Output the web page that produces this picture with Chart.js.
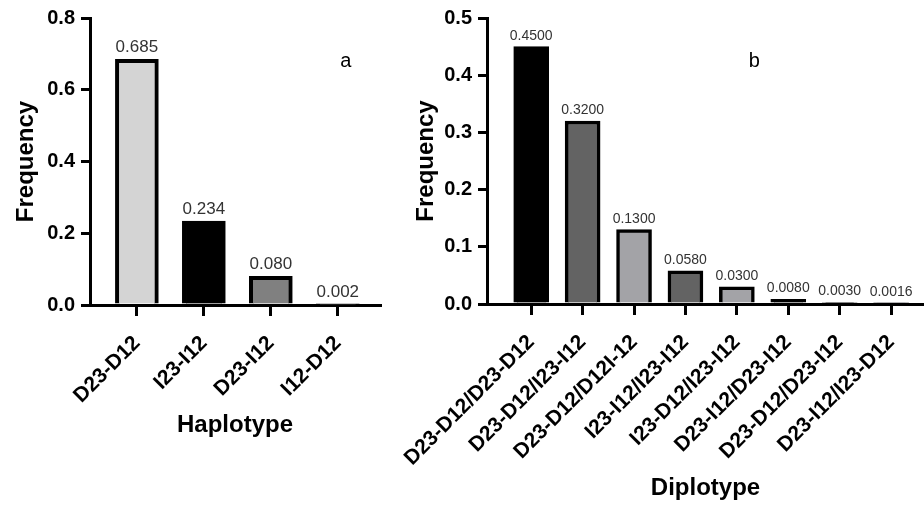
<!DOCTYPE html>
<html>
<head>
<meta charset="utf-8">
<script src="https://cdn.jsdelivr.net/npm/chart.js@4/dist/chart.umd.min.js"></script>
<style>
    body { margin: 0; background: #fff; }
    #wrap { position: relative; width: 924px; height: 508px; overflow: hidden; }
    canvas { position: absolute; top: 0; }
</style>
</head>
<body>
<div id="wrap">
    <canvas id="hapChart" width="400" height="508" style="left:0; width:400px; height:508px;"></canvas>
    <canvas id="dipChart" width="554" height="508" style="left:370px; width:554px; height:508px;"></canvas>
</div>
<script>
// Panel a - haplotypes
const hapLabels = ['D23-D12', 'I23-I12', 'D23-I12', 'I12-D12'];
const hapValues = [0.685, 0.234, 0.080, 0.002];
const hapColors = ['#d4d4d4', '#000000', '#808080', '#d4d4d4'];
const hapTicks = [0, 0.2, 0.4, 0.6, 0.8];

// Panel b - diplotypes
const dipLabels = ['D23-D12/D23-D12', 'D23-D12/I23-I12', 'D23-D12/D12I-12', 'I23-I12/I23-I12',
    'I23-D12/I23-I12', 'D23-I12/D23-I12', 'D23-D12/D23-I12', 'D23-I12/I23-D12'];
const dipValues = [0.4500, 0.3200, 0.1300, 0.0580, 0.0300, 0.0080, 0.0030, 0.0016];
const dipColors = ['#000000', '#636363', '#a3a3a7', '#636363', '#a3a3a7', '#000000', '#636363', '#a3a3a7'];
const dipTicks = [0, 0.1, 0.2, 0.3, 0.4, 0.5];

Chart.defaults.font.family = "'Liberation Sans', Arial, sans-serif";
Chart.defaults.color = '#000';

// value labels above bars + panel letter
const barLabels = {
    id: 'barLabels',
    afterDatasetsDraw(chart, args, opts) {
        const { ctx, scales } = chart;
        const meta = chart.getDatasetMeta(0);
        ctx.save();
        ctx.fillStyle = '#333';
        ctx.textAlign = 'center';
        ctx.textBaseline = 'alphabetic';
        ctx.font = `${opts.size}px 'Liberation Sans', Arial, sans-serif`;
        meta.data.forEach((bar, i) => {
            const v = chart.data.datasets[0].data[i].y;
            ctx.fillText(v.toFixed(opts.digits), bar.x, bar.y - 7);
        });
        // panel letter
        ctx.fillStyle = '#000';
        ctx.font = "20px 'Liberation Sans', Arial, sans-serif";
        ctx.fillText(opts.letter, scales.x.getPixelForValue(opts.letterX), scales.y.getPixelForValue(opts.letterY));
        ctx.restore();
    }
};

function makeChart(id, o) {
    const ctx = document.getElementById(id).getContext('2d');
    return new Chart(ctx, {
        type: 'bar',
        data: {
            datasets: [{
                data: o.labels.map((l, i) => ({ x: i, y: o.values[i] })),
                backgroundColor: o.colors,
                borderColor: '#000',
                borderWidth: o.border,
                borderSkipped: 'bottom',
                barThickness: o.barWidth
            }]
        },
        options: {
            responsive: false,
            animation: false,
            layout: { padding: { left: 0, right: o.padRight, top: 16, bottom: 0 } },
            plugins: {
                legend: { display: false },
                tooltip: { enabled: false },
                barLabels: { size: o.labelSize, digits: o.digits, letter: o.letter, letterX: o.letterX, letterY: o.letterY }
            },
            scales: {
                x: {
                    type: 'linear',
                    min: o.xMin,
                    max: o.xMax,
                    offset: false,
                    afterBuildTicks: (s) => { s.ticks = o.labels.map((_, i) => ({ value: i })); },
                    afterFit: (s) => { s.height = o.xHeight; s.paddingLeft = 0; s.paddingRight = 0; },
                    ticks: {
                        autoSkip: false,
                        minRotation: 45,
                        maxRotation: 45,
                        padding: 15,
                        font: { size: 21, weight: 'bold' },
                        callback: (v) => o.labels[v]
                    },
                    grid: { offset: false, drawOnChartArea: false, color: '#000', lineWidth: 3, tickLength: 11 },
                    border: { color: '#000', width: 3 },
                    title: { display: true, text: o.xTitle, font: { size: 24, weight: 'bold' }, padding: { top: 0, bottom: o.xTitlePad } }
                },
                y: {
                    min: 0,
                    max: o.yMax,
                    afterBuildTicks: (s) => { s.ticks = o.yTicks.map(v => ({ value: v })); },
                    afterFit: (s) => { s.width = o.yWidth; },
                    ticks: {
                        padding: 6,
                        font: { size: 20, weight: 'bold' },
                        callback: (v) => v.toFixed(1)
                    },
                    grid: { drawOnChartArea: false, color: '#000', lineWidth: 3, tickLength: 9 },
                    border: { color: '#000', width: 3 },
                    title: { display: true, text: 'Frequency', font: { size: 24, weight: 'bold' }, padding: { top: o.yTitlePad, bottom: 0 } }
                }
            }
        },
        plugins: [barLabels]
    });
}

makeChart('hapChart', {
    labels: hapLabels, values: hapValues, colors: hapColors, yTicks: hapTicks,
    yMax: 0.8, xMin: -0.7, xMax: 3.63, padRight: 20,
    yWidth: 90, xHeight: 203, barWidth: 43, border: 4,
    labelSize: 17, digits: 3, letter: 'a', letterX: 3.12, letterY: 0.664,
    xTitle: 'Haplotype', xTitlePad: 68, yTitlePad: 12
});

makeChart('dipChart', {
    labels: dipLabels, values: dipValues, colors: dipColors, yTicks: dipTicks,
    yMax: 0.5, xMin: -0.86, xMax: 7.64, padRight: 0,
    yWidth: 117, xHeight: 204, barWidth: 35, border: 3.5,
    labelSize: 14, digits: 4, letter: 'b', letterX: 4.34, letterY: 0.415,
    xTitle: 'Diplotype', xTitlePad: 5, yTitlePad: 42
});
</script>
</body>
</html>
